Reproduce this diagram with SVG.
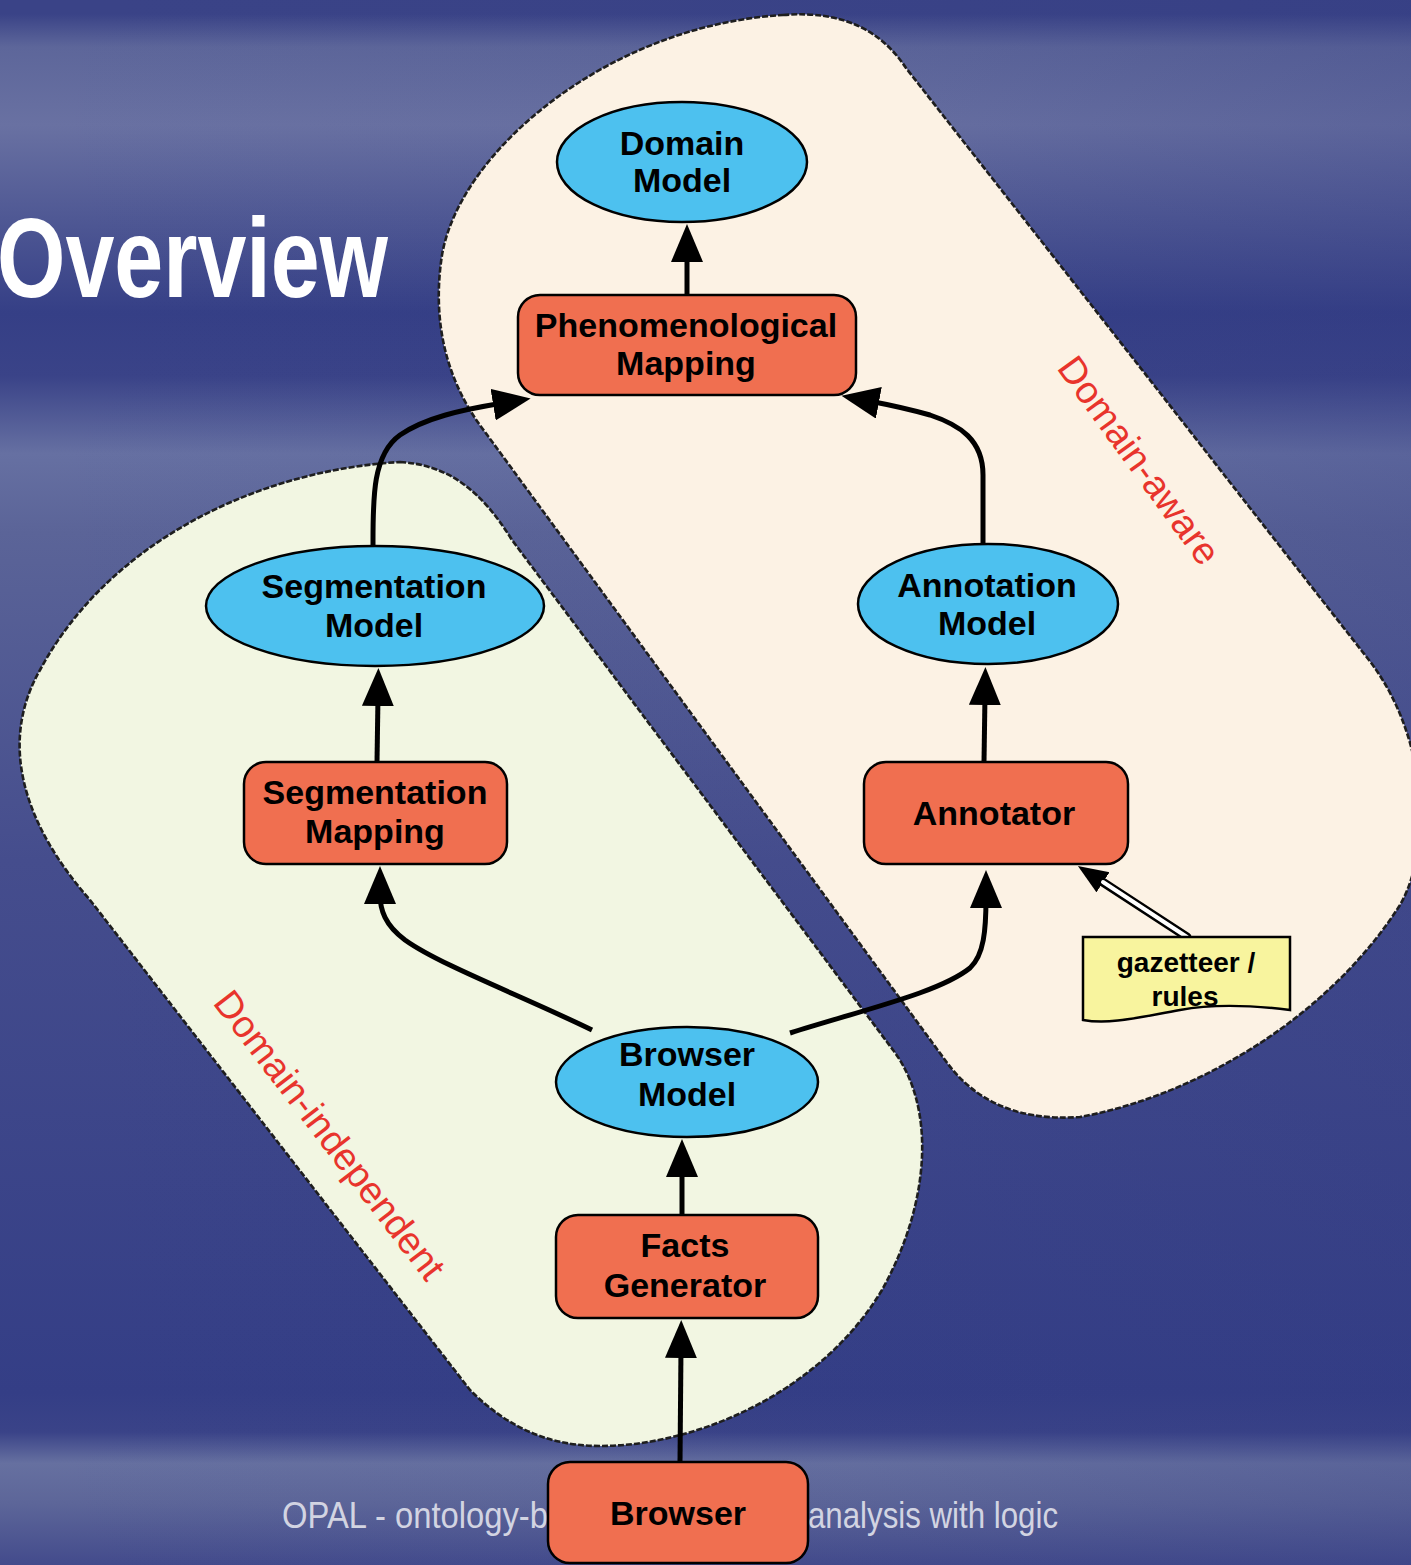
<svg xmlns="http://www.w3.org/2000/svg" width="1411" height="1565" viewBox="0 0 1411 1565">
  <defs>
    <linearGradient id="bg" x1="0" y1="0" x2="0" y2="1565" gradientUnits="userSpaceOnUse">
      <stop offset="0" stop-color="#3a4387"/>
      <stop offset="0.009" stop-color="#3a4387"/>
      <stop offset="0.03" stop-color="#5d669a"/>
      <stop offset="0.08" stop-color="#6971a2"/>
      <stop offset="0.2" stop-color="#353f86"/>
      <stop offset="0.24" stop-color="#3a4388"/>
      <stop offset="0.29" stop-color="#6670a2"/>
      <stop offset="0.34" stop-color="#5b6498"/>
      <stop offset="0.55" stop-color="#454d8d"/>
      <stop offset="0.89" stop-color="#343e86"/>
      <stop offset="0.915" stop-color="#3a4388"/>
      <stop offset="0.935" stop-color="#6670a0"/>
      <stop offset="0.96" stop-color="#5d6699"/>
      <stop offset="1" stop-color="#434b8c"/>
    </linearGradient>
    <linearGradient id="shade" x1="0" y1="0" x2="1411" y2="0" gradientUnits="userSpaceOnUse">
      <stop offset="0" stop-color="#2e3780" stop-opacity="0"/>
      <stop offset="0.6" stop-color="#2e3780" stop-opacity="0.05"/>
      <stop offset="1" stop-color="#2e3780" stop-opacity="0.22"/>
    </linearGradient>
    <marker id="arrow" markerUnits="userSpaceOnUse" markerWidth="40" markerHeight="32" refX="10" refY="16" orient="auto">
      <path d="M0,0 L38,16 L0,32 Z" fill="#000"/>
    </marker>
    <marker id="arrowSmall" markerUnits="userSpaceOnUse" markerWidth="32" markerHeight="26" refX="6" refY="12" orient="auto">
      <path d="M0,0 L30,12 L0,24 Z" fill="#000"/>
    </marker>
  </defs>
  <style>
    .blob { stroke: #1e1e1e; stroke-width: 2.6; stroke-dasharray: 6 2; }
    .proc { fill: #f06f50; stroke: #000; stroke-width: 2.5; }
    .model { fill: #4dc1ef; stroke: #000; stroke-width: 2.5; }
    .note { fill: #f8f49e; stroke: #000; stroke-width: 2.5; }
    .lbl { font-family: "Liberation Sans", Arial, sans-serif; font-weight: bold; font-size: 34px; fill: #000; text-anchor: middle; }
    .small { font-size: 28px; }
    .zone { font-family: "Liberation Sans", Arial, sans-serif; font-size: 38px; fill: #e8342c; }
    .edge { fill: none; stroke: #000; stroke-width: 5; marker-end: url(#arrow); }
    .footer { font-family: "Liberation Sans", Arial, sans-serif; font-size: 36px; fill: #d2d4e2; }
  </style>

  <!-- slide background -->
  <rect x="0" y="0" width="1411" height="1565" fill="url(#bg)"/>
  <rect x="0" y="0" width="1411" height="1565" fill="url(#shade)"/>

  <!-- slide title -->
  <text x="-3" y="297" font-family="Liberation Sans, Arial, sans-serif" font-weight="bold" font-size="114" fill="#ffffff" textLength="391" lengthAdjust="spacingAndGlyphs">Overview</text>

  <!-- footer -->
  <text class="footer" x="282" y="1528" textLength="266" lengthAdjust="spacingAndGlyphs">OPAL - ontology-b</text>
  <text class="footer" x="808" y="1528" textLength="250" lengthAdjust="spacingAndGlyphs">analysis with logic</text>

  <!-- zones -->
  <g id="zone-domain-aware">
    <path class="blob" fill="#fcf2e4" d="M 783 15 C 845 10 882 32 906 68 L 1365 655 C 1430 735 1432 850 1400 905 C 1330 1015 1200 1095 1080 1117 C 1010 1122 970 1095 945 1060 L 485 432 C 445 380 432 320 442 255 C 460 150 610 25 783 15 Z"/>
    <text class="zone" transform="translate(1056,368) rotate(54)">Domain-aware</text>
  </g>
  <g id="zone-domain-independent">
    <path class="blob" fill="#f2f6e2" d="M 400 462 C 450 465 482 492 512 540 L 893 1050 C 935 1105 932 1200 882 1290 C 822 1390 700 1446 600 1446 C 540 1446 500 1420 470 1390 L 90 900 C 20 820 0 740 40 670 C 110 540 260 470 400 462 Z"/>
    <text class="zone" transform="translate(212,1003) rotate(52.5)">Domain-independent</text>
  </g>

  <!-- connectors -->
  <g id="connectors">
    <path class="edge" d="M 687 295 L 687 252"/>
    <path class="edge" d="M 373 546 C 373 500 372 455 400 435 C 425 418 460 410 503 403"/>
    <path class="edge" d="M 983 545 L 983 475 C 983 440 960 425 930 415 C 905 408 885 404 869 401"/>
    <path class="edge" d="M 377 762 L 378 696"/>
    <path class="edge" d="M 984 762 L 985 695"/>
    <path class="edge" d="M 592 1030 C 520 995 440 965 405 940 C 385 925 380 910 380 894"/>
    <path class="edge" d="M 790 1033 C 870 1008 940 992 970 968 C 984 955 986 930 986 898"/>
    <path class="edge" d="M 682 1215 L 682 1167"/>
    <path class="edge" d="M 680 1462 L 681 1348"/>
    <path d="M 1187 937 L 1098 879" fill="none" stroke="#000" stroke-width="9" stroke-linecap="round" marker-end="url(#arrowSmall)"/>
    <path d="M 1187 937 L 1103 882" fill="none" stroke="#fff" stroke-width="4" stroke-linecap="round"/>
  </g>

  <!-- nodes -->
  <g id="domain-model">
    <ellipse class="model" cx="682" cy="162" rx="125" ry="60"/>
    <text class="lbl" x="682" y="155">Domain</text>
    <text class="lbl" x="682" y="192">Model</text>
  </g>
  <g id="phenomenological-mapping">
    <rect class="proc" x="518" y="295" width="338" height="100" rx="22"/>
    <text class="lbl" x="686" y="337">Phenomenological</text>
    <text class="lbl" x="686" y="375">Mapping</text>
  </g>
  <g id="segmentation-model">
    <ellipse class="model" cx="375" cy="606" rx="169" ry="60"/>
    <text class="lbl" x="374" y="598">Segmentation</text>
    <text class="lbl" x="374" y="637">Model</text>
  </g>
  <g id="annotation-model">
    <ellipse class="model" cx="988" cy="604" rx="130" ry="60"/>
    <text class="lbl" x="987" y="597">Annotation</text>
    <text class="lbl" x="987" y="635">Model</text>
  </g>
  <g id="segmentation-mapping">
    <rect class="proc" x="244" y="762" width="263" height="102" rx="22"/>
    <text class="lbl" x="375" y="804">Segmentation</text>
    <text class="lbl" x="375" y="843">Mapping</text>
  </g>
  <g id="annotator">
    <rect class="proc" x="864" y="762" width="264" height="102" rx="22"/>
    <text class="lbl" x="994" y="825">Annotator</text>
  </g>
  <g id="gazetteer-rules">
    <path class="note" d="M 1083 937 H 1290 V 1010 C 1250 1005 1212 1004 1180 1010 C 1140 1017 1110 1025 1083 1020 Z"/>
    <text class="lbl small" x="1186" y="972">gazetteer /</text>
    <text class="lbl small" x="1185" y="1006">rules</text>
  </g>
  <g id="browser-model">
    <ellipse class="model" cx="687" cy="1082" rx="131" ry="55"/>
    <text class="lbl" x="687" y="1066">Browser</text>
    <text class="lbl" x="687" y="1106">Model</text>
  </g>
  <g id="facts-generator">
    <rect class="proc" x="556" y="1215" width="262" height="103" rx="22"/>
    <text class="lbl" x="685" y="1257">Facts</text>
    <text class="lbl" x="685" y="1297">Generator</text>
  </g>
  <g id="browser">
    <rect class="proc" x="548" y="1462" width="260" height="101" rx="22"/>
    <text class="lbl" x="678" y="1525">Browser</text>
  </g>
</svg>
